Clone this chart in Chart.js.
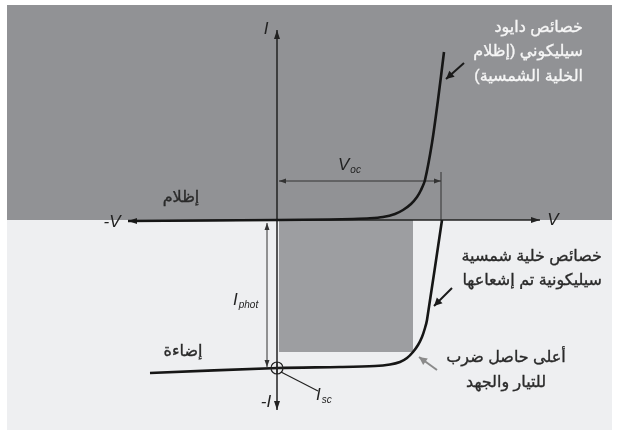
<!DOCTYPE html>
<html>
<head>
<meta charset="utf-8">
<script src="https://cdn.jsdelivr.net/npm/chart.js@4"></script>
<style>
  body { margin: 0; background: #fff; }
  canvas { display: block; }
</style>
</head>
<body>
<canvas id="ivChart" width="619" height="436"></canvas>
<script>
// dark (unlit) diode curve, V and I in arbitrary units
const darkV = [-14.9, 0.1, 5.3, 7.6, 9.3, 10.6, 11.8, 12.6, 13.4, 14.0, 14.4, 14.8, 15.5, 16.1, 16.7];
const darkI = [-0.1, 0, 0.05, 0.1, 0.17, 0.3, 0.6, 1.0, 1.6, 2.3, 3.0, 4.0, 7.7, 12.0, 16.8];
// illuminated cell curve
const litV = [-12.7, 0.1, 6.3, 9.8, 11.3, 12.3, 13.0, 13.6, 14.1, 14.5, 14.8, 15.0, 16.5];
const litI = [-15.3, -14.8, -14.7, -14.6, -14.45, -14.2, -13.8, -13.2, -12.5, -11.7, -10.8, -10.0, 0];
// key values
const vOc = 16.4;
const iSc = -14.8;
const vMp = 13.6;
const iMp = -13.2;

const toPoints = (xs, ys) => xs.map((x, i) => ({ x: x, y: ys[i] }));

function arrowHead(ctx, x1, y1, x2, y2, len, half) {
    const a = Math.atan2(y2 - y1, x2 - x1);
    ctx.beginPath();
    ctx.moveTo(x2, y2);
    ctx.lineTo(x2 - len * Math.cos(a) + half * Math.sin(a), y2 - len * Math.sin(a) - half * Math.cos(a));
    ctx.lineTo(x2 - len * Math.cos(a) - half * Math.sin(a), y2 - len * Math.sin(a) + half * Math.cos(a));
    ctx.closePath();
    ctx.fill();
}

function arrowLine(ctx, x1, y1, x2, y2, len, half, both) {
    ctx.beginPath();
    ctx.moveTo(x1, y1);
    ctx.lineTo(x2, y2);
    ctx.stroke();
    arrowHead(ctx, x1, y1, x2, y2, len, half);
    if (both) arrowHead(ctx, x2, y2, x1, y1, len, half);
}

function subLabel(ctx, main, sub, x, y, size) {
    ctx.font = 'italic ' + size + 'px "Liberation Sans", Arial';
    ctx.textAlign = 'left';
    ctx.textBaseline = 'middle';
    ctx.fillText(main, x, y);
    const w = ctx.measureText(main).width;
    ctx.font = 'italic ' + Math.round(size * 0.6) + 'px "Liberation Sans", Arial';
    ctx.fillText(sub, x + w + 1, y + size * 0.3);
}

// slightly heavier text than regular weight
function heavyText(ctx, text, x, y, color) {
    ctx.fillStyle = color;
    ctx.strokeStyle = color;
    ctx.lineWidth = 0.35;
    ctx.fillText(text, x, y);
    ctx.strokeText(text, x, y);
}

const backdrop = {
    id: 'backdrop',
    beforeDraw(chart) {
        const ctx = chart.ctx;
        const x = chart.scales.x, y = chart.scales.y;
        ctx.save();
        ctx.fillStyle = '#ffffff';
        ctx.fillRect(0, 0, chart.width, chart.height);
        const left = x.getPixelForValue(-27.0), right = x.getPixelForValue(33.5);
        const top = y.getPixelForValue(21.5), mid = y.getPixelForValue(0), bottom = y.getPixelForValue(-21.0);
        ctx.fillStyle = '#919295';
        ctx.fillRect(left, top, right - left, mid - top);
        ctx.fillStyle = '#eeeff1';
        ctx.fillRect(left, mid, right - left, bottom - mid);
        // maximum power rectangle
        const x0 = x.getPixelForValue(0) + 2, x1 = x.getPixelForValue(vMp);
        const y1 = y.getPixelForValue(iMp);
        ctx.fillStyle = '#9d9ea1';
        ctx.fillRect(x0, mid, x1 - x0, y1 - mid);
        ctx.restore();
    },
    beforeDatasetsDraw(chart) {
        const ctx = chart.ctx;
        const x = chart.scales.x, y = chart.scales.y;
        const ox = x.getPixelForValue(0), oy = y.getPixelForValue(0);
        ctx.save();
        ctx.strokeStyle = '#222';
        ctx.fillStyle = '#222';
        ctx.lineWidth = 1.5;
        // axes
        arrowLine(ctx, ox, oy, x.getPixelForValue(26.3), oy, 9, 3);
        arrowLine(ctx, ox, oy, x.getPixelForValue(-14.9), oy + 1, 9, 3);
        arrowLine(ctx, ox, oy, ox, y.getPixelForValue(19.0), 9, 3);
        arrowLine(ctx, ox, oy, ox, y.getPixelForValue(-19.0), 9, 3);
        // Voc dimension
        ctx.lineWidth = 1;
        ctx.strokeStyle = '#333';
        ctx.fillStyle = '#333';
        const vx = x.getPixelForValue(vOc);
        ctx.beginPath();
        ctx.moveTo(vx, y.getPixelForValue(4.8));
        ctx.lineTo(vx, oy);
        ctx.stroke();
        arrowLine(ctx, ox + 2, y.getPixelForValue(3.9), vx, y.getPixelForValue(3.9), 7, 2.5, true);
        // Iphot dimension
        const px = x.getPixelForValue(-1.0);
        arrowLine(ctx, px, oy + 3, px, y.getPixelForValue(iSc) - 1, 7, 2.5, true);
        ctx.restore();
    },
    afterDatasetsDraw(chart) {
        const ctx = chart.ctx;
        const x = chart.scales.x, y = chart.scales.y;
        ctx.save();
        // Isc marker
        const cx = x.getPixelForValue(0), cy = y.getPixelForValue(iSc);
        ctx.strokeStyle = '#222';
        ctx.lineWidth = 1.2;
        ctx.beginPath();
        ctx.arc(cx, cy, 6, 0, Math.PI * 2);
        ctx.moveTo(cx - 6, cy);
        ctx.lineTo(cx + 6, cy);
        ctx.moveTo(cx, cy - 6);
        ctx.lineTo(cx, cy + 6);
        ctx.stroke();
        ctx.beginPath();
        ctx.moveTo(cx + 4, cy + 4);
        ctx.lineTo(318, 391);
        ctx.stroke();
        // pointer arrows
        ctx.strokeStyle = '#1a1a1a';
        ctx.fillStyle = '#1a1a1a';
        ctx.lineWidth = 2;
        arrowLine(ctx, 464, 63, 446, 79, 8, 4);
        arrowLine(ctx, 452, 288, 434, 306, 8, 4);
        ctx.strokeStyle = '#8a8a8a';
        ctx.fillStyle = '#8a8a8a';
        arrowLine(ctx, 437, 370, 419, 357, 8, 4);

        // latin labels
        ctx.fillStyle = '#222';
        ctx.font = 'italic 17px "Liberation Sans", Arial';
        ctx.textAlign = 'center';
        ctx.textBaseline = 'middle';
        ctx.fillText('I', 266, 29);
        ctx.fillText('-V', 112, 222);
        ctx.fillText('V', 553, 220);
        ctx.fillText('-I', 266, 402);
        subLabel(ctx, 'V', 'oc', 338, 165, 17);
        subLabel(ctx, 'I', 'phot', 233, 300, 17);
        subLabel(ctx, 'I', 'sc', 316, 395, 17);

        // arabic labels
        ctx.direction = 'rtl';
        ctx.textBaseline = 'middle';
        ctx.font = '16px "Liberation Sans", "DejaVu Sans", Arial';
        ctx.textAlign = 'right';
        heavyText(ctx, 'خصائص دايود', 583, 28, '#f6f6f6');
        heavyText(ctx, 'سيليكوني (إظلام', 583, 52, '#f6f6f6');
        heavyText(ctx, 'الخلية الشمسية)', 583, 77, '#f6f6f6');
        heavyText(ctx, 'خصائص خلية شمسية', 602, 257, '#2a2a2a');
        heavyText(ctx, 'سيليكونية تم إشعاعها', 602, 281, '#2a2a2a');
        ctx.textAlign = 'center';
        heavyText(ctx, 'إظلام', 181, 198, '#2a2a2a');
        heavyText(ctx, 'إضاءة', 183, 352, '#2a2a2a');
        heavyText(ctx, 'أعلى حاصل ضرب', 506, 358, '#2a2a2a');
        heavyText(ctx, 'للتيار والجهد', 506, 383, '#2a2a2a');
        ctx.restore();
    }
};

new Chart(document.getElementById('ivChart'), {
    type: 'scatter',
    data: {
        datasets: [
            {
                label: 'dark',
                data: toPoints(darkV, darkI),
                showLine: true,
                borderColor: '#161616',
                borderWidth: 2.6,
                pointRadius: 0,
                tension: 0.3
            },
            {
                label: 'illuminated',
                data: toPoints(litV, litI),
                showLine: true,
                borderColor: '#161616',
                borderWidth: 2.6,
                pointRadius: 0,
                tension: 0.3
            }
        ]
    },
    options: {
        responsive: false,
        animation: false,
        layout: { padding: 0 },
        plugins: {
            legend: { display: false },
            tooltip: { enabled: false }
        },
        scales: {
            x: { type: 'linear', display: false, min: -27.7, max: 34.2 },
            y: { type: 'linear', display: false, min: -21.6, max: 22.0 }
        }
    },
    plugins: [backdrop]
});
</script>
</body>
</html>
